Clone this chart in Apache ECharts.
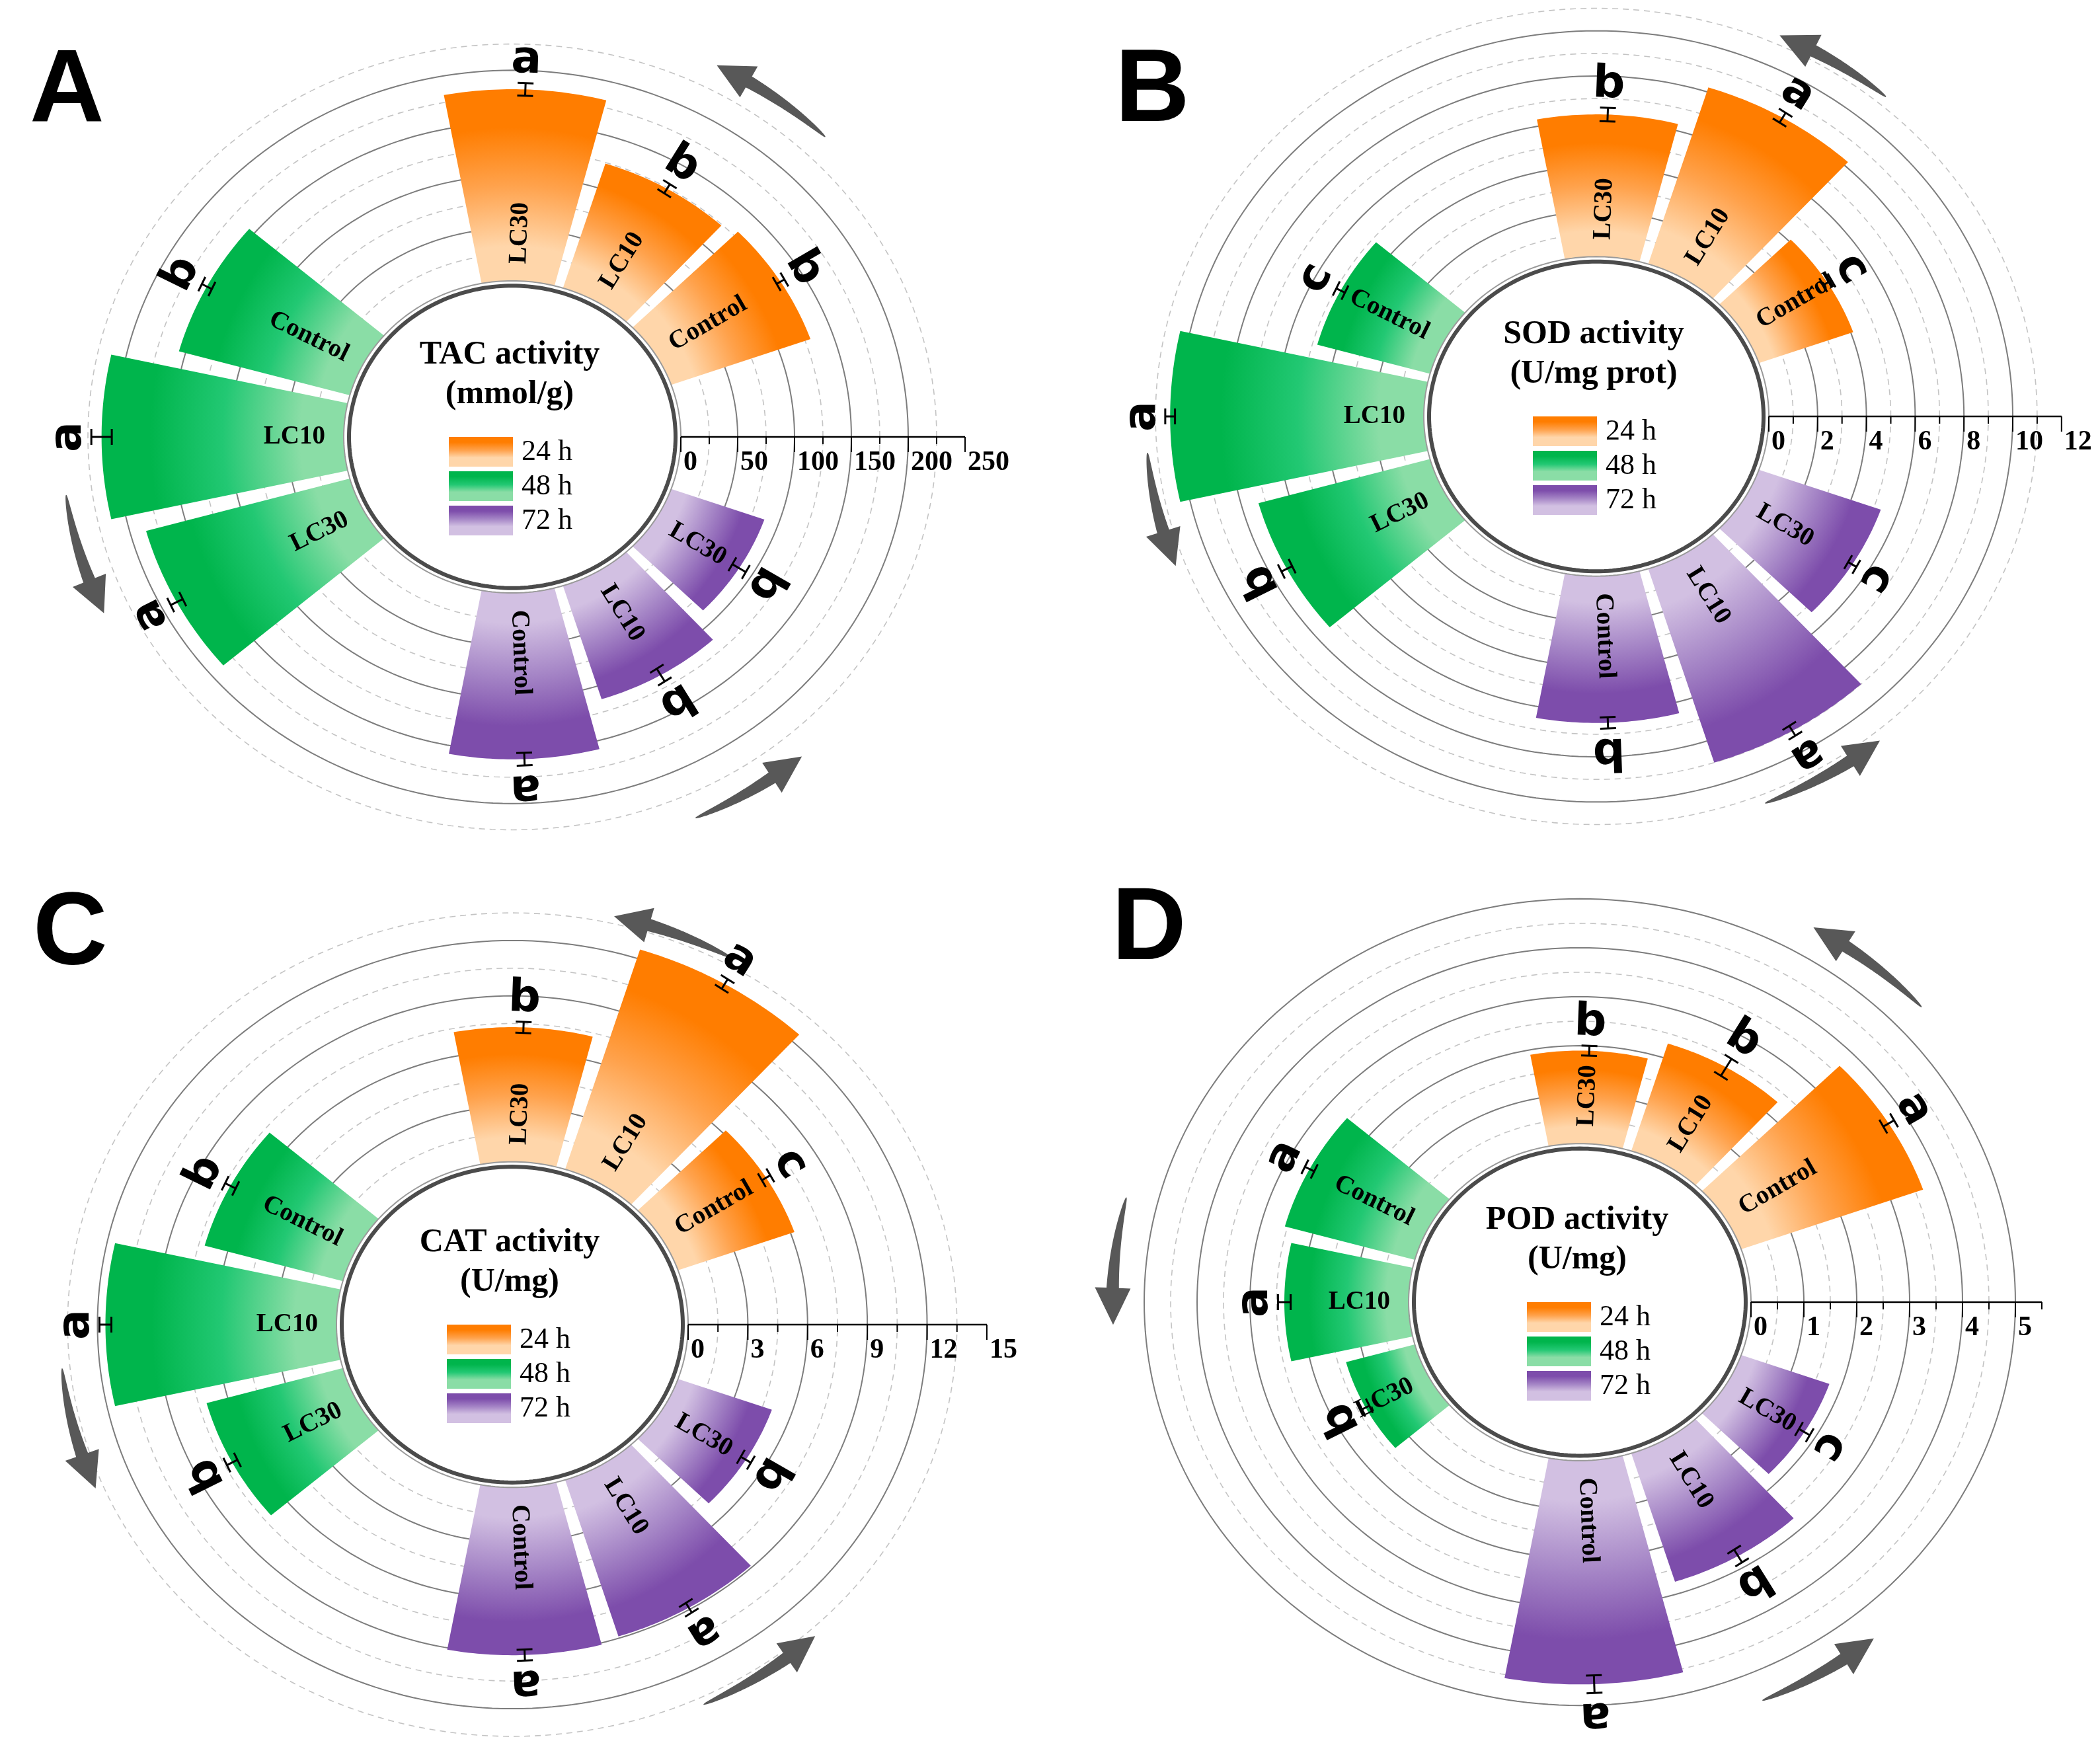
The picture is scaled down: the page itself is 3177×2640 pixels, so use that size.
<!DOCTYPE html>
<html>
<head>
<meta charset="utf-8">
<script src="https://cdn.jsdelivr.net/npm/echarts/dist/echarts.min.js"></script>
<style>
html,body{margin:0;padding:0;background:#fff;}
#chart{width:3177px;height:2640px;}
</style>
</head>
<body>
<div id="chart"></div>
<script>
// ---------------- DATA ----------------
const timeGroups = ['24 h', '48 h', '72 h'];
const treatments = ['Control', 'LC10', 'LC30'];
// order of every value array: 24 h (Control, LC10, LC30), 48 h (...), 72 h (...)

const tacTitle = ['TAC activity', '(mmol/g)'];
const tacValues = [130, 124, 182, 156, 213, 186, 158, 113, 87];
const tacErrors = [4, 5, 6, 5, 9, 6, 6, 7, 7];
const tacLetters = ['b', 'b', 'a', 'b', 'a', 'a', 'a', 'b', 'b'];
const tacTicks = [0, 50, 100, 150, 200, 250];

const sodTitle = ['SOD activity', '(U/mg prot)'];
const sodValues = [4.1, 8.2, 6.3, 4.8, 10.4, 7.3, 6.5, 9.0, 5.3];
const sodErrors = [0.2, 0.25, 0.3, 0.2, 0.2, 0.25, 0.25, 0.25, 0.2];
const sodLetters = ['c', 'a', 'b', 'c', 'a', 'b', 'b', 'a', 'c'];
const sodTicks = [0, 2, 4, 6, 8, 10, 12];

const catTitle = ['CAT activity', '(U/mg)'];
const catValues = [6.2, 12.5, 7.3, 7.2, 11.6, 7.1, 9.1, 8.9, 5.0];
const catErrors = [0.25, 0.3, 0.3, 0.3, 0.3, 0.3, 0.3, 0.3, 0.3];
const catLetters = ['c', 'a', 'b', 'b', 'a', 'b', 'a', 'a', 'b'];
const catTicks = [0, 3, 6, 9, 12, 15];

const podTitle = ['POD activity', '(U/mg)'];
const podValues = [3.65, 2.3, 1.9, 2.55, 2.35, 1.35, 4.57, 2.75, 1.77];
const podErrors = [0.12, 0.2, 0.1, 0.1, 0.12, 0.08, 0.18, 0.15, 0.12];
const podLetters = ['a', 'b', 'b', 'a', 'a', 'b', 'a', 'b', 'c'];
const podTicks = [0, 1, 2, 3, 4, 5];

// ---------------- LAYOUT ----------------
const K = 1.08;          // horizontal stretch of the elliptical polar plot
const HW = 700, HH = 620;
const panels = [
  {tag: 'A', title: tacTitle, values: tacValues, errors: tacErrors, letters: tacLetters, ticks: tacTicks,
   axisMax: 250, cx: 775, cy: 661, sx: 1.72, hole: 255,
   arrows: [[46, 63], [188, 205], [294, 310]], arrowR: 248, tagPos: [45, 140], legendDx: 0},
  {tag: 'B', title: sodTitle, values: sodValues, errors: sodErrors, letters: sodLetters, ticks: sodTicks,
   axisMax: 12, cx: 2415, cy: 630, sx: 36.9, hole: 261,
   arrows: [[50, 66], [185, 201], [292, 309]], arrowR: 11.4, tagPos: [1687, 140], legendDx: 0},
  {tag: 'C', title: catTitle, values: catValues, errors: catErrors, letters: catLetters, ticks: catTicks,
   axisMax: 15, cx: 775, cy: 2004, sx: 30.13, hole: 266,
   arrows: [[61, 77], [186, 203], [295, 312]], arrowR: 13.9, tagPos: [50, 1415], legendDx: -3},
  {tag: 'D', title: podTitle, values: podValues, errors: podErrors, letters: podLetters, ticks: podTicks,
   axisMax: 5.5, cx: 2390, cy: 1970, sx: 80, hole: 259,
   arrows: [[43, 60], [166, 183], [293, 309]], arrowR: 5.6, tagPos: [1682, 1408], legendDx: 16}
];

const palette = [
  {dark: '#FF7D00', mid: '#FFA24C', light: '#FFD6AA'},
  {dark: '#00B54C', mid: '#22C873', light: '#8ADDA6'},
  {dark: '#7D4DAB', mid: '#A585C6', light: '#D2C0E2'}
];

function slotAngle(i) {
  const g = Math.floor(i / 3), j = i % 3;
  return 60 + 120 * g + (j - 1) * 28;
}
const HALF_W = 12.5;

function mkPt(api) {
  return function (rho, deg) {
    const a = deg * Math.PI / 180;
    return api.coord([rho * Math.cos(a), rho * Math.sin(a)]);
  };
}
function ellipsePts(pt, rho, n) {
  const a = [];
  for (let k = 0; k < n; k++) a.push(pt(rho, 360 * k / n));
  return a;
}

const SERIF = '"Liberation Serif", "Times New Roman", serif';
const SANS = '"DejaVu Sans", Verdana, sans-serif';

const series = [];
const graphics = [];

panels.forEach((p, pi) => {
  const h = p.hole / p.sx;
  const minor = p.ticks[1] / 2;
  const major = p.ticks[1];
  const base = {type: 'custom', xAxisIndex: pi, yAxisIndex: pi, silent: true, animation: false};

  // rings
  const rings = [];
  for (let r = minor; r <= p.axisMax - minor + 1e-9; r += minor) rings.push([r, 0]);
  series.push(Object.assign({}, base, {
    z: 1, data: rings,
    renderItem: function (params, api) {
      const pt = mkPt(api);
      const r = api.value(0);
      const solid = Math.abs(r / major - Math.round(r / major)) < 1e-6;
      return {type: 'polygon', shape: {points: ellipsePts(pt, h + r, 260)},
        style: solid ? {fill: 'none', stroke: '#7d7d7d', lineWidth: 2}
                     : {fill: 'none', stroke: '#c4c4c4', lineWidth: 1.6, lineDash: [9, 7]}};
    }
  }));

  // bars
  series.push(Object.assign({}, base, {
    z: 3, data: p.values.map((v, i) => [i, v, p.errors[i]]),
    renderItem: function (params, api) {
      const pt = mkPt(api);
      const i = api.value(0), v = api.value(1);
      const th = slotAngle(i);
      const N = 36, pts = [];
      for (let k = 0; k <= N; k++) pts.push(pt(h, th - HALF_W + 2 * HALF_W * k / N));
      for (let k = N; k >= 0; k--) pts.push(pt(h + v, th - HALF_W + 2 * HALF_W * k / N));
      const c = api.coord([0, 0]);
      const tip = pt(h + v, th), b0 = pt(h, th);
      const rT = Math.hypot(tip[0] - c[0], tip[1] - c[1]);
      const rB = Math.hypot(b0[0] - c[0], b0[1] - c[1]);
      const f = rB / rT;
      const col = palette[Math.floor(i / 3)];
      const at = t => f + (1 - f) * t;
      const grad = new echarts.graphic.RadialGradient(c[0], c[1], rT, [
        {offset: 0, color: col.light}, {offset: at(0.18), color: col.light},
        {offset: at(0.5), color: col.mid}, {offset: at(0.8), color: col.dark},
        {offset: 1, color: col.dark}], true);
      return {type: 'polygon', shape: {points: pts}, style: {fill: grad}};
    }
  }));

  // central hole
  series.push(Object.assign({}, base, {
    z: 4, data: [[0, 0]],
    renderItem: function (params, api) {
      const pt = mkPt(api);
      return {type: 'group', children: [
        {type: 'polygon', shape: {points: ellipsePts(pt, h, 260)}, style: {fill: '#fff', stroke: '#9a9a9a', lineWidth: 2}},
        {type: 'polygon', shape: {points: ellipsePts(pt, h - 8 / p.sx, 260)}, style: {fill: 'none', stroke: '#4b4b4b', lineWidth: 6}}
      ]};
    }
  }));

  // radial axis
  series.push(Object.assign({}, base, {
    z: 5, data: [[0, 0]],
    renderItem: function (params, api) {
      const pt = mkPt(api);
      const children = [];
      const a0 = pt(h, 0), a1 = pt(h + p.axisMax, 0);
      children.push({type: 'line', shape: {x1: a0[0], y1: a0[1], x2: a1[0], y2: a1[1]}, style: {stroke: '#000', lineWidth: 2.5}});
      for (let t = 0; t <= p.axisMax + 1e-9; t += minor) {
        const q = pt(h + t, 0);
        const isMajor = Math.abs(t / major - Math.round(t / major)) < 1e-6;
        children.push({type: 'line', shape: {x1: q[0], y1: q[1], x2: q[0], y2: q[1] + (isMajor ? 23 : 11)},
          style: {stroke: '#000', lineWidth: 2}});
      }
      p.ticks.forEach(t => {
        const q = pt(h + t, 0);
        children.push({type: 'text', x: q[0] + 4, y: q[1] + 18,
          style: {text: String(t), fill: '#000', font: 'bold 42px ' + SERIF, align: 'left', verticalAlign: 'top'}});
      });
      return {type: 'group', children};
    }
  }));

  // error bars + significance letters
  series.push(Object.assign({}, base, {
    z: 6, data: p.values.map((v, i) => [i, v, p.errors[i]]),
    renderItem: function (params, api) {
      const pt = mkPt(api);
      const i = api.value(0), v = api.value(1), e = api.value(2);
      const th = slotAngle(i);
      const p1 = pt(h + v - e, th), p2 = pt(h + v + e, th);
      const b0 = pt(h, th);
      let dx = p2[0] - b0[0], dy = p2[1] - b0[1];
      const L = Math.hypot(dx, dy) || 1; dx /= L; dy /= L;
      const nx = -dy, ny = dx, cap = 12;
      const st = {stroke: '#000', lineWidth: 3};
      const phi = Math.atan2(-dy, dx);
      const lp = [p2[0] + dx * 34, p2[1] + dy * 34];
      return {type: 'group', children: [
        {type: 'line', shape: {x1: p1[0], y1: p1[1], x2: p2[0], y2: p2[1]}, style: st},
        {type: 'line', shape: {x1: p1[0] - cap * nx, y1: p1[1] - cap * ny, x2: p1[0] + cap * nx, y2: p1[1] + cap * ny}, style: st},
        {type: 'line', shape: {x1: p2[0] - cap * nx, y1: p2[1] - cap * ny, x2: p2[0] + cap * nx, y2: p2[1] + cap * ny}, style: st},
        {type: 'text', x: lp[0], y: lp[1], rotation: phi - Math.PI / 2,
          style: {text: p.letters[i], fill: '#000', font: 'bold 68px ' + SANS, align: 'center', verticalAlign: 'middle'}}
      ]};
    }
  }));

  // treatment labels inside bars
  series.push(Object.assign({}, base, {
    z: 7, data: p.values.map((v, i) => [i, v, 0]),
    renderItem: function (params, api) {
      const pt = mkPt(api);
      const i = api.value(0);
      const th = slotAngle(i);
      const a = pt(h + 28 / p.sx, th), b = pt(h + 60 / p.sx, th);
      const phi = Math.atan2(-(b[1] - a[1]), b[0] - a[0]);
      const right = Math.cos(th * Math.PI / 180) >= 0;
      return {type: 'text', x: a[0], y: a[1], rotation: right ? phi : phi - Math.PI,
        style: {text: treatments[i % 3], fill: '#000', font: 'bold 39px ' + SERIF,
          align: right ? 'left' : 'right', verticalAlign: 'middle'}};
    }
  }));

  // direction arrows
  series.push(Object.assign({}, base, {
    z: 2, data: p.arrows.map((a, k) => [k, 0]),
    renderItem: function (params, api) {
      const pt = mkPt(api);
      const [t0, t1] = p.arrows[api.value(0)];
      const rho = h + p.arrowR;
      const N = 80, pts = [];
      for (let k = 0; k <= N; k++) pts.push(pt(rho, t0 + (t1 - t0) * k / N));
      const cum = [0];
      for (let k = 1; k <= N; k++) cum.push(cum[k - 1] + Math.hypot(pts[k][0] - pts[k - 1][0], pts[k][1] - pts[k - 1][1]));
      const total = cum[N], headLen = 54, bodyEnd = total - headLen;
      const left = [], right = [];
      let kb = 0;
      const normalAt = k => {
        const a = pts[Math.max(0, k - 1)], b = pts[Math.min(N, k + 1)];
        let dx = b[0] - a[0], dy = b[1] - a[1];
        const L = Math.hypot(dx, dy) || 1;
        return [-dy / L, dx / L];
      };
      for (let k = 0; k <= N; k++) {
        if (cum[k] > bodyEnd) break;
        kb = k;
        const n = normalAt(k);
        const w = 1 + 18 * Math.pow(cum[k] / bodyEnd, 0.6);
        left.push([pts[k][0] + n[0] * w / 2, pts[k][1] + n[1] * w / 2]);
        right.push([pts[k][0] - n[0] * w / 2, pts[k][1] - n[1] * w / 2]);
      }
      const n = normalAt(kb), B = pts[kb], T = pts[N];
      const poly = left.concat([[B[0] + n[0] * 27, B[1] + n[1] * 27], T, [B[0] - n[0] * 27, B[1] - n[1] * 27]], right.reverse());
      return {type: 'polygon', shape: {points: poly}, style: {fill: '#585858'}};
    }
  }));

  // panel tag
  graphics.push({type: 'text', x: p.tagPos[0], y: p.tagPos[1], z: 10,
    style: {text: p.tag, fill: '#000', font: 'bold 156px "Liberation Sans", Arial, sans-serif', align: 'left', verticalAlign: 'middle'}});
  // centre title
  graphics.push({type: 'text', x: p.cx - 4, y: p.cy - 124, z: 10,
    style: {text: p.title[0], fill: '#000', font: 'bold 50px ' + SERIF, align: 'center', verticalAlign: 'middle'}});
  graphics.push({type: 'text', x: p.cx - 4, y: p.cy - 64, z: 10,
    style: {text: p.title[1], fill: '#000', font: 'bold 50px ' + SERIF, align: 'center', verticalAlign: 'middle'}});
  // legend
  timeGroups.forEach((g, gi) => {
    const x0 = p.cx - 96 + p.legendDx, y0 = p.cy + gi * 52;
    graphics.push({type: 'rect', x: x0, y: y0, z: 10, shape: {width: 97, height: 45},
      style: {fill: new echarts.graphic.LinearGradient(0, 0, 0, 1, [
        {offset: 0, color: palette[gi].dark}, {offset: 0.18, color: palette[gi].dark},
        {offset: 0.45, color: palette[gi].mid}, {offset: 0.7, color: palette[gi].light},
        {offset: 1, color: palette[gi].light}])}});
    graphics.push({type: 'text', x: x0 + 110, y: y0 + 23, z: 10,
      style: {text: g, fill: '#000', font: '44px ' + SERIF, align: 'left', verticalAlign: 'middle'}});
  });
});

const chart = echarts.init(document.getElementById('chart'), null, {renderer: 'canvas'});
chart.setOption({
  animation: false,
  backgroundColor: '#fff',
  grid: panels.map(p => ({left: p.cx - HW, top: p.cy - HH, width: 2 * HW, height: 2 * HH, show: false})),
  xAxis: panels.map((p, i) => ({gridIndex: i, type: 'value', min: -HW / p.sx, max: HW / p.sx, show: false})),
  yAxis: panels.map((p, i) => ({gridIndex: i, type: 'value', min: -HH * K / p.sx, max: HH * K / p.sx, show: false})),
  series: series,
  graphic: graphics
});
</script>
</body>
</html>
